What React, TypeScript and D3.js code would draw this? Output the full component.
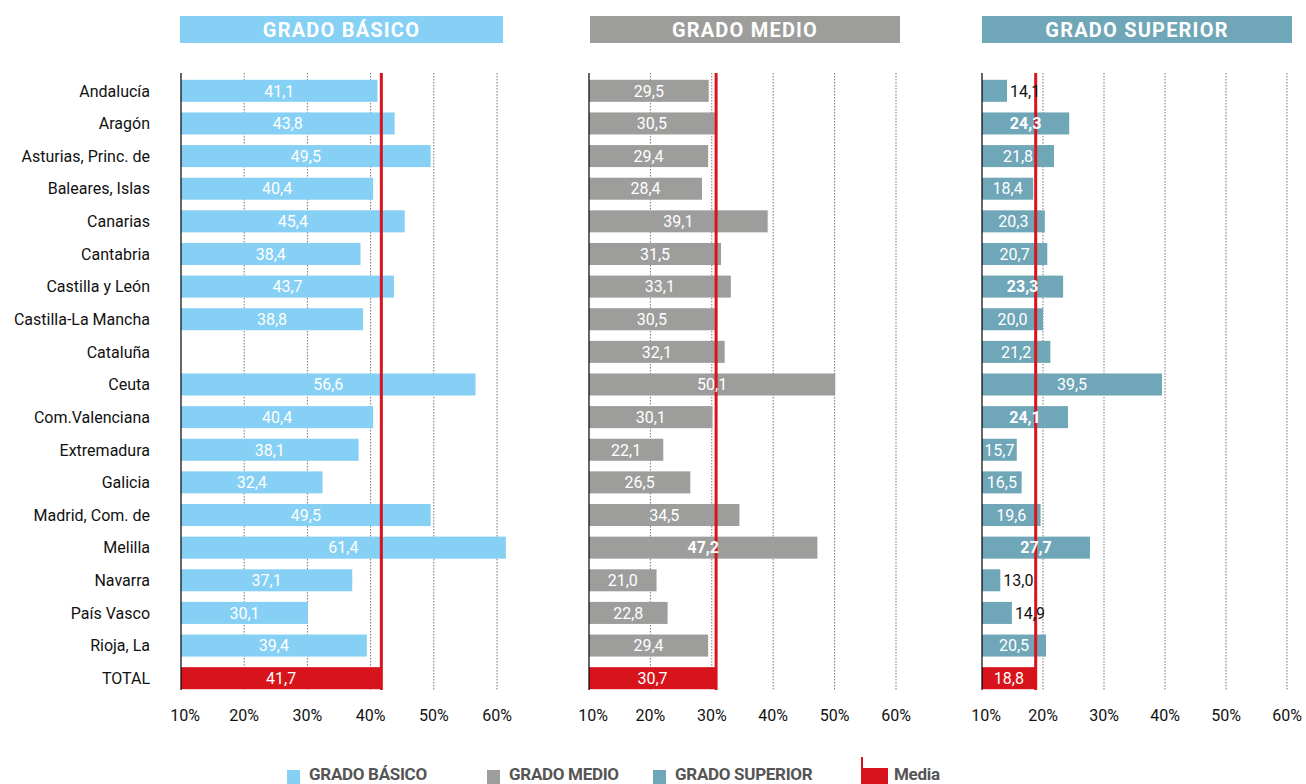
import * as d3 from "d3";

const regions = [
  "Andalucía",
  "Aragón",
  "Asturias, Princ. de",
  "Baleares, Islas",
  "Canarias",
  "Cantabria",
  "Castilla y León",
  "Castilla-La Mancha",
  "Cataluña",
  "Ceuta",
  "Com.Valenciana",
  "Extremadura",
  "Galicia",
  "Madrid, Com. de",
  "Melilla",
  "Navarra",
  "País Vasco",
  "Rioja, La",
  "TOTAL",
];

const basico: (number | null)[] = [
  41.1, 43.8, 49.5, 40.4, 45.4, 38.4, 43.7, 38.8, null, 56.6, 40.4, 38.1, 32.4, 49.5, 61.4, 37.1, 30.1, 39.4, 41.7,
];
const medio: (number | null)[] = [
  29.5, 30.5, 29.4, 28.4, 39.1, 31.5, 33.1, 30.5, 32.1, 50.1, 30.1, 22.1, 26.5, 34.5, 47.2, 21.0, 22.8, 29.4, 30.7,
];
const superior: (number | null)[] = [
  14.1, 24.3, 21.8, 18.4, 20.3, 20.7, 23.3, 20.0, 21.2, 39.5, 24.1, 15.7, 16.5, 19.6, 27.7, 13.0, 14.9, 20.5, 18.8,
];

// labels that the original sets in bold
const boldMedio = ["Melilla"];
const boldSuperior = ["Aragón", "Castilla y León", "Com.Valenciana", "Melilla"];

const ticks = [10, 20, 30, 40, 50, 60];
const legendItems = ["GRADO BÁSICO", "GRADO MEDIO", "GRADO SUPERIOR"];

const RED = "#d7141b";
const FONT = "Roboto, 'Liberation Sans', sans-serif";

const panels = [
  { title: "GRADO BÁSICO", values: basico, bold: [] as string[], color: "#85d0f4", x0: 181, x1: 497, hx0: 180, hx1: 503 },
  { title: "GRADO MEDIO", values: medio, bold: boldMedio, color: "#9d9d9c", x0: 589, x1: 896, hx0: 590, hx1: 900 },
  { title: "GRADO SUPERIOR", values: superior, bold: boldSuperior, color: "#6fa6b8", x0: 982, x1: 1287, hx0: 982, hx1: 1292 },
];

const TOP = 73;
const BOTTOM = 690;

const y = d3
  .scaleBand<string>()
  .domain(regions)
  .range([74.5, 694.5])
  .paddingInner(0.325)
  .paddingOuter(0.1625);

const fmt = (v: number) => v.toFixed(1).replace(".", ",");

function Panel({ p }: { p: (typeof panels)[number] }) {
  const x = d3.scaleLinear().domain([10, 60]).range([p.x0, p.x1]);
  const total = p.values[p.values.length - 1] as number;
  const bh = y.bandwidth();
  return (
    <g>
      <rect x={p.hx0} y={16} width={p.hx1 - p.hx0} height={27} fill={p.color} />
      <text
        x={(p.hx0 + p.hx1) / 2}
        y={37}
        textAnchor="middle"
        fill="#fff"
        fontSize={20}
        fontWeight={700}
        letterSpacing={1.2}
        fontFamily={FONT}
      >
        {p.title}
      </text>

      {ticks.slice(1).map((t) => (
        <line
          key={t}
          x1={x(t)}
          x2={x(t)}
          y1={TOP}
          y2={BOTTOM}
          stroke="#777"
          strokeWidth={1}
          strokeDasharray="1.5 1.5"
        />
      ))}

      {regions.map((r, i) => {
        const v = p.values[i];
        if (v == null) return null;
        const isTotal = i === regions.length - 1;
        return (
          <rect
            key={r}
            x={x(10)}
            y={y(r)}
            width={x(v) - x(10)}
            height={bh}
            fill={isTotal ? RED : p.color}
          />
        );
      })}

      {/* media line */}
      <line x1={x(total)} x2={x(total)} y1={TOP} y2={BOTTOM} stroke={RED} strokeWidth={3} />
      <line x1={x(10)} x2={x(10)} y1={TOP} y2={BOTTOM} stroke="#000" strokeWidth={1.2} />

      {regions.map((r, i) => {
        const v = p.values[i];
        if (v == null) return null;
        const outside = v - 10 < 5.5;
        const cy = (y(r) ?? 0) + bh / 2;
        return (
          <text
            key={r}
            x={outside ? x(v) + 3 : (x(10) + x(v)) / 2}
            y={cy}
            dy="0.36em"
            textAnchor={outside ? "start" : "middle"}
            fontSize={16}
            fontWeight={p.bold.includes(r) ? 700 : 400}
            fill={outside ? "#111" : "#fff"}
            fontFamily={FONT}
          >
            {fmt(v)}
          </text>
        );
      })}

      {ticks.map((t, i) => (
        <text
          key={t}
          x={x(t) + (i === 0 ? 4 : 0)}
          y={721}
          textAnchor="middle"
          fontSize={16}
          fill="#111"
          fontFamily={FONT}
        >
          {t}%
        </text>
      ))}
    </g>
  );
}

export default function App() {
  const legendX = [287, 487, 653];
  return (
    <div style={{ position: "fixed", left: 0, top: 0, width: 1306, height: 784, background: "#fff" }}>
      <svg width={1306} height={784}>
        {regions.map((r) => (
          <text
            key={r}
            x={150}
            y={(y(r) ?? 0) + y.bandwidth() / 2}
            dy="0.36em"
            textAnchor="end"
            fontSize={16}
            fill="#111"
            fontFamily={FONT}
          >
            {r}
          </text>
        ))}

        {panels.map((p) => (
          <Panel key={p.title} p={p} />
        ))}

        {legendItems.map((name, i) => (
          <g key={name}>
            <rect x={legendX[i]} y={770} width={13} height={14} fill={panels[i].color} />
            <text
              x={legendX[i] + 22}
              y={780}
              fontSize={17}
              fontWeight={700}
              letterSpacing={-0.3}
              fill="#555"
              fontFamily={FONT}
            >
              {name}
            </text>
          </g>
        ))}
        <line x1={862} x2={862} y1={757} y2={784} stroke={RED} strokeWidth={2} />
        <rect x={861} y={768} width={27} height={16} fill={RED} />
        <text x={894} y={780} fontSize={17} fontWeight={700} letterSpacing={-0.3} fill="#555" fontFamily={FONT}>
          Media
        </text>
      </svg>
    </div>
  );
}
